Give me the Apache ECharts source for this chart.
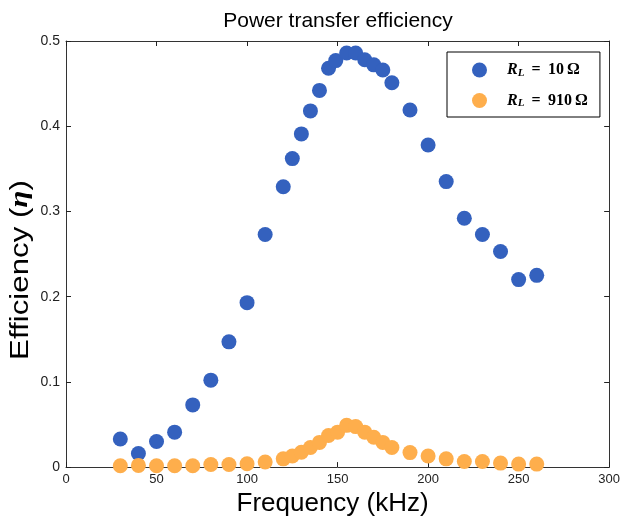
<!DOCTYPE html>
<html>
<head>
<meta charset="utf-8">
<script src="https://cdn.jsdelivr.net/npm/echarts@6/dist/echarts.min.js"></script>
<style>html,body{margin:0;padding:0;background:#fff;}#c{width:623px;height:522px;}</style>
</head>
<body>
<div id="c"></div>
<script>
const titleText = 'Power transfer efficiency';
const xAxisName = 'Frequency (kHz)';
const yAxisName = 'Efficiency ({e|η})';
const xTicks = [0, 50, 100, 150, 200, 250, 300];
const yTicks = [0, 0.1, 0.2, 0.3, 0.4, 0.5];
const seriesNames = ['RL10', 'RL910'];
const legendLoads = ['10', '910'];
const blueX = [30,40,50,60,70,80,90,100,110,120,125,130,135,140,145,149,155,160,165,170,175,180,190,200,210,220,230,240,250,260];
const blueY = [0.033,0.016,0.030,0.041,0.073,0.102,0.147,0.193,0.273,0.329,0.362,0.391,0.418,0.442,0.468,0.477,0.486,0.486,0.478,0.472,0.466,0.451,0.419,0.378,0.335,0.292,0.273,0.253,0.220,0.225];
const orangeX = [30,40,50,60,70,80,90,100,110,120,125,130,135,140,145,150,155,160,165,170,175,180,190,200,210,220,230,240,250,260];
const orangeY = [0.0015,0.002,0.0015,0.0015,0.0015,0.003,0.003,0.004,0.006,0.0097,0.013,0.0175,0.023,0.029,0.037,0.041,0.049,0.0475,0.041,0.035,0.029,0.023,0.017,0.013,0.0097,0.0066,0.0066,0.0047,0.0035,0.0035];

const pairs = (xs, ys) => xs.map((x, i) => [x, ys[i]]);
const sans = 'Liberation Sans, Arial, sans-serif';
const serif = 'Liberation Serif, serif';
const axisLineStyle = {color: '#333', width: 1};
const tick = {show: true, inside: true, length: 5, lineStyle: {color: '#222'}};

const chart = echarts.init(document.getElementById('c'), null, {renderer: 'canvas'});
chart.setOption({
  backgroundColor: '#fff',
  animation: false,
  title: {
    text: titleText, left: 333, top: 6, textAlign: 'center',
    textStyle: {fontSize: 21, fontWeight: 'normal', color: '#000', fontFamily: sans}
  },
  grid: {left: 66, right: 13, top: 41, bottom: 53, containLabel: false},
  legend: {
    left: 447, top: 52, orient: 'vertical',
    data: seriesNames,
    icon: 'circle', itemWidth: 15, itemHeight: 15, itemGap: 14,
    padding: [10, 12, 8, 25],
    borderColor: '#000', borderWidth: 1, backgroundColor: '#fff',
    formatter: name => {
      const i = seriesNames.indexOf(name);
      return '{r|R}{s|L}{t| \u2009=\u2009 ' + legendLoads[i] + '\u2009Ω}';
    },
    textStyle: {
      padding: [0, 0, 0, 15],
      rich: {
        r: {fontFamily: serif, fontStyle: 'italic', fontWeight: 'bold', fontSize: 16, color: '#000'},
        s: {fontFamily: serif, fontStyle: 'italic', fontWeight: 'bold', fontSize: 11, color: '#000', padding: [6, 0, 0, 0]},
        t: {fontFamily: serif, fontWeight: 'bold', fontSize: 16, color: '#000'}
      }
    }
  },
  graphic: [{
    type: 'text', x: 21, y: 270, rotation: Math.PI / 2, scaleX: 1.25, silent: true,
    style: {
      text: yAxisName, align: 'center', verticalAlign: 'middle',
      fontSize: 25, fontFamily: sans, fill: '#000',
      rich: {e: {fontSize: 25, fontFamily: serif, fontStyle: 'italic', fontWeight: 'bold', fill: '#000'}}
    }
  }],
  xAxis: [{
    type: 'value', position: 'bottom', min: xTicks[0], max: xTicks[xTicks.length - 1], interval: 50,
    axisLine: {show: true, onZero: false, lineStyle: axisLineStyle},
    axisTick: tick, splitLine: {show: false},
    axisLabel: {margin: 6, color: '#222', fontSize: 13, fontFamily: sans},
    name: xAxisName, nameLocation: 'middle', nameGap: 20,
    nameTextStyle: {fontSize: 26, color: '#000', fontFamily: sans, padding: [0, 10, 0, 0]}
  }, {
    type: 'value', position: 'top', min: 0, max: 300, interval: 50,
    axisLine: {show: true, onZero: false, lineStyle: axisLineStyle},
    axisTick: tick, splitLine: {show: false}, axisLabel: {show: false}
  }],
  yAxis: [{
    type: 'value', position: 'left', min: yTicks[0], max: yTicks[yTicks.length - 1], interval: 0.1,
    axisLine: {show: true, onZero: false, lineStyle: axisLineStyle},
    axisTick: tick, splitLine: {show: false},
    axisLabel: {margin: 6, color: '#222', fontSize: 14, fontFamily: sans,
      formatter: v => String(Math.round(v * 10) / 10)}
  }, {
    type: 'value', position: 'right', min: 0, max: 0.5, interval: 0.1,
    axisLine: {show: true, onZero: false, lineStyle: axisLineStyle},
    axisTick: tick, splitLine: {show: false}, axisLabel: {show: false}
  }],
  series: [{
    name: seriesNames[0], type: 'scatter', xAxisIndex: 0, yAxisIndex: 0,
    symbol: 'circle', symbolSize: 15,
    itemStyle: {color: '#3461be', opacity: 1},
    data: pairs(blueX, blueY)
  }, {
    name: seriesNames[1], type: 'scatter', xAxisIndex: 0, yAxisIndex: 0,
    symbol: 'circle', symbolSize: 15,
    itemStyle: {color: '#feae4c', opacity: 1},
    data: pairs(orangeX, orangeY)
  }]
});
</script>
</body>
</html>
